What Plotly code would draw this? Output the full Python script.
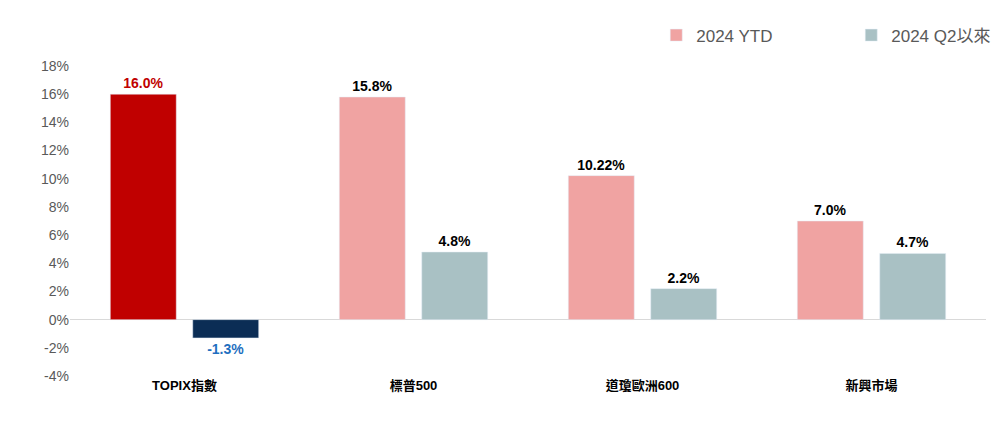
import plotly.graph_objects as go

categories = ["TOPIX指數", "標普500", "道瓊歐洲600", "新興市場"]
ytd = [16.0, 15.8, 10.22, 7.0]
q2 = [-1.3, 4.8, 2.2, 4.7]
ytd_text = ["16.0%", "15.8%", "10.22%", "7.0%"]
q2_text = ["-1.3%", "4.8%", "2.2%", "4.7%"]
tick_vals = [-4, -2, 0, 2, 4, 6, 8, 10, 12, 14, 16, 18]
tick_text = ["-4%", "-2%", "0%", "2%", "4%", "6%", "8%", "10%", "12%", "14%", "16%", "18%"]

ytd_colors = ["#C00000", "#F0A3A2", "#F0A3A2", "#F0A3A2"]
q2_colors = ["#0B2D55", "#A9C1C4", "#A9C1C4", "#A9C1C4"]
ytd_txtc = ["#C00000", "black", "black", "black"]
q2_txtc = ["#1F6FC0", "black", "black", "black"]

xlab = [f"<b>{c}</b>" for c in categories]
tf = "Liberation Sans, Arial"
fig = go.Figure()
fig.add_bar(x=xlab, y=ytd, marker_color=ytd_colors, text=[f"<b>{t}</b>" for t in ytd_text],
            textposition="outside", constraintext="none", offsetgroup="a",
            textfont=dict(color=ytd_txtc, size=14, family=tf), showlegend=False, cliponaxis=False)
fig.add_bar(x=xlab, y=q2, marker_color=q2_colors, text=[f"<b>{t}</b>" for t in q2_text],
            textposition="outside", constraintext="none", offsetgroup="b",
            textfont=dict(color=q2_txtc, size=14, family=tf), showlegend=False, cliponaxis=False)
fig.add_bar(x=[xlab[0]], y=[None], marker_color="#F0A3A2", name="2024 YTD", offsetgroup="a")
fig.add_bar(x=[xlab[0]], y=[None], marker_color="#A9C1C4", name="2024 Q2以來", offsetgroup="b")

fig.update_layout(
    width=1000, height=424, plot_bgcolor="white", paper_bgcolor="white",
    margin=dict(l=62, r=22, t=58, b=56, autoexpand=False),
    barmode="group", bargap=0.28, bargroupgap=0.2,
    font=dict(family="Liberation Sans, Noto Sans CJK TC", color="#595959", size=14),
    legend=dict(orientation="h", x=0.64, y=0.935, xanchor="left", yanchor="middle",
                yref="container", font=dict(size=17, color="#595959"),
                entrywidth=150, traceorder="normal"),
)
fig.update_yaxes(range=[-4, 18], tickvals=tick_vals, ticktext=tick_text, showgrid=False,
                 zeroline=True, zerolinecolor="#D9D9D9", zerolinewidth=1, showline=False)
fig.update_xaxes(showline=False, ticks="", tickfont=dict(color="black", size=13,
                 family="Liberation Sans, Noto Sans CJK TC"))
fig.write_html("out.html")
